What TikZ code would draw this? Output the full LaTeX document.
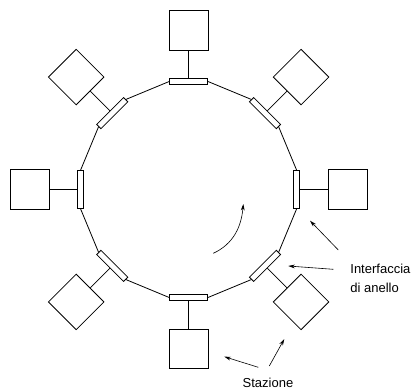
\documentclass[tikz,border=0pt]{standalone}
\usepackage{fontspec}
\setmainfont{Liberation Sans}
\usetikzlibrary{arrows.meta}
\begin{document}
\begin{tikzpicture}[x=1pt,y=1pt,
  line width=0.8pt,
  iface/.style={draw, fill=white, rectangle, minimum width=6pt, minimum height=38pt, inner sep=0pt},
  station/.style={draw, rectangle, minimum size=39.2pt, inner sep=0pt},
  ptr/.style={-{Stealth[length=6.5pt,width=3.8pt]}, line width=0.6pt},
  lbl/.style={font=\fontsize{13}{15}\selectfont, inner sep=0pt}]
\useasboundingbox (-188.6,-200.5) rectangle (222.4,189.5);
% interfaces on the ring and the stations attached to them
\foreach \k in {0,...,7} {
  \node[iface, rotate=\k*45] (if\k) at (\k*45:108) {};
  \node[station, rotate=\k*45] (st\k) at (\k*45:159) {};
  \draw (if\k.east) -- (st\k.west);
}
% ring segments between neighbouring interfaces
\foreach \k [evaluate=\k as \n using {int(mod(\k+1,8))}] in {0,...,7} {
  \draw (if\k.north) -- (if\n.south);
}
% direction of circulation
\coordinate (c1) at (24.7,-63.8);
\coordinate (c2) at (54.7,-14.5);
\draw[ptr] (c1) to[out=25,in=-95] (c2);
% labels
\node[lbl, anchor=base west] (lab1) at (161.4,-83.5) {Interfaccia};
\node[lbl, anchor=base west] (lab2) at (161.4,-102.5) {di anello};
\node[lbl, anchor=base] (lab3) at (79.4,-198.0) {Stazione};
% pointers from the labels
\coordinate (a1) at (149.7,-60.5);
\coordinate (b1) at (121.4,-31.2);
\coordinate (a2) at (144.7,-79.8);
\coordinate (b2) at (99.7,-76.5);
\coordinate (a3) at (69.7,-177.8);
\coordinate (b3) at (35.7,-167.2);
\coordinate (a4) at (80.7,-176.5);
\coordinate (b4) at (95.7,-149.5);
\draw[ptr] (a1) -- (b1);
\draw[ptr] (a2) -- (b2);
\draw[ptr] (a3) -- (b3);
\draw[ptr] (a4) -- (b4);
\end{tikzpicture}
\end{document}
